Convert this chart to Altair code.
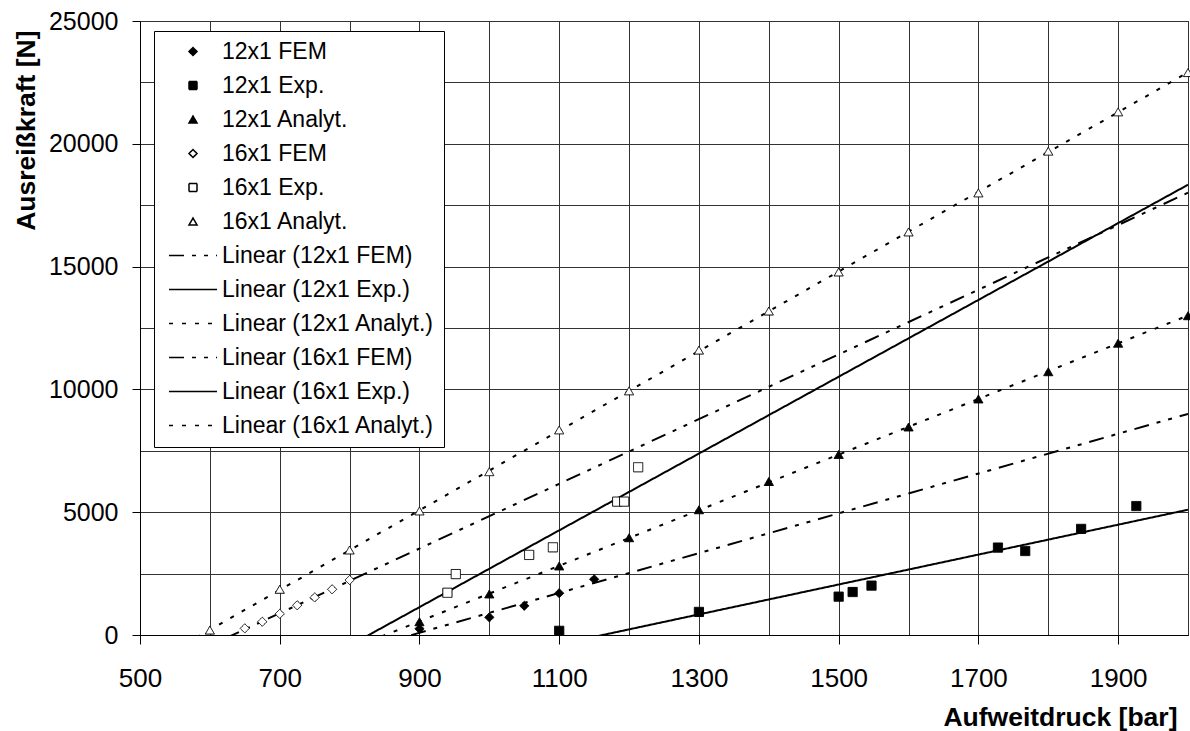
import altair as alt
import pandas as pd

# ---- data ----
series = ["12x1 FEM", "12x1 Exp.", "12x1 Analyt.", "16x1 FEM", "16x1 Exp.", "16x1 Analyt."]
trends = ["Linear (" + s + ")" for s in series]

fem12_x = [900, 1000, 1050, 1100, 1150]
fem12_y = [250, 720, 1190, 1700, 2270]

exp12_x = [1100, 1300, 1500, 1520, 1547, 1728, 1767, 1847, 1926]
exp12_y = [170, 940, 1560, 1750, 2010, 3560, 3420, 4320, 5250]

ana12_x = [900, 1000, 1100, 1200, 1300, 1400, 1500, 1600, 1700, 1800, 1900, 2000]
ana12_y = [540, 1670, 2810, 3960, 5100, 6250, 7350, 8470, 9610, 10720, 11880, 13000]

fem16_x = [650, 675, 700, 725, 750, 775, 800]
fem16_y = [270, 540, 860, 1210, 1530, 1860, 2240]

exp16_x = [940, 952, 1057, 1091, 1183, 1193, 1213]
exp16_y = [1720, 2480, 3260, 3570, 5430, 5430, 6830]

ana16_x = [600, 700, 800, 900, 1000, 1100, 1200, 1300, 1400, 1500, 1600, 1700, 1800, 1900, 2000]
ana16_y = [200, 1860, 3460, 5050, 6650, 8350, 9940, 11600, 13190, 14780, 16410, 18000, 19700, 21300, 22900]

all_x = [fem12_x, exp12_x, ana12_x, fem16_x, exp16_x, ana16_x]
all_y = [fem12_y, exp12_y, ana12_y, fem16_y, exp16_y, ana16_y]

x_ticks = list(range(500, 2001, 100))
y_ticks = list(range(0, 25001, 2500))

rows = []
for name, xs, ys in zip(series, all_x, all_y):
    for a, b in zip(xs, ys):
        rows.append({"series": name, "x": a, "y": b})
df = pd.DataFrame(rows)

# ---- styles ----
legend_domain = series + trends
line_path = "M-6,0H6"
shape_range = ["diamond", "square", "triangle-up", "diamond", "square", "triangle-up"] + [line_path] * 6
fill_range = ["black"] * 3 + ["white"] * 3 + ["transparent"] * 6
dash_fem = [15, 8, 4, 8, 4, 8]
dash_dot = [4, 9]
solid = [1, 0]
dash_range = [solid] * 6 + [dash_fem, solid, dash_dot, dash_fem, solid, dash_dot]

shape_scale = alt.Scale(domain=legend_domain, range=shape_range)
fill_scale = alt.Scale(domain=legend_domain, range=fill_range)
dash_scale = alt.Scale(domain=legend_domain, range=dash_range)

x_scale = alt.Scale(domain=[500, 2000], nice=False, zero=False)
y_scale = alt.Scale(domain=[0, 25000], nice=False)

x_axis = alt.Axis(
    values=x_ticks, format="d", title="Aufweitdruck [bar]",
    labelExpr="datum.value % 200 == 100 ? datum.label : ''",
    tickOpacity={"condition": {"test": "datum.value % 200 == 100", "value": 1}, "value": 0},
    labelFontSize=26, labelPadding=21, tickSize=9, labelFlush=False, labelOverlap=False,
    titleX=1037, titleY=90, titleAlign="right", titleBaseline="alphabetic",
    titleFontSize=26.5, titleFontWeight="bold",
)
y_axis = alt.Axis(
    values=y_ticks, format="d", title="Ausreißkraft [N]",
    labelExpr="datum.value % 5000 == 0 ? datum.label : ''",
    tickOpacity={"condition": {"test": "datum.value % 5000 == 0", "value": 1}, "value": 0},
    labelFontSize=25, labelPadding=14, tickSize=8, labelFlush=False, labelOverlap=False,
    titleAngle=270, titleX=-106, titleY=9, titleAlign="right", titleBaseline="alphabetic",
    titleFontSize=26.5, titleFontWeight="bold",
)

base = alt.Chart(df)

lines = base.transform_regression(
    "x", "y", groupby=["series"], extent=[500, 2000]
).transform_calculate(
    trend="'Linear (' + datum.series + ')'"
).mark_line(clip=True, color="black", strokeWidth=2).encode(
    x=alt.X("x:Q", scale=x_scale, axis=x_axis),
    y=alt.Y("y:Q", scale=y_scale, axis=y_axis),
    strokeDash=alt.StrokeDash("trend:N", scale=dash_scale, legend=alt.Legend(title=None)),
    detail="trend:N",
)

points = base.mark_point(filled=False, stroke="black", strokeWidth=1, opacity=1, size=85).encode(
    x=alt.X("x:Q", scale=x_scale, axis=x_axis),
    y=alt.Y("y:Q", scale=y_scale, axis=y_axis),
    shape=alt.Shape("series:N", scale=shape_scale, legend=alt.Legend(title=None)),
    fill=alt.Fill("series:N", scale=fill_scale, legend=alt.Legend(title=None)),
    strokeDash=alt.StrokeDash("series:N", scale=dash_scale, legend=alt.Legend(title=None)),
)

chart = alt.layer(lines, points).properties(
    width=1048, height=614,
    autosize=alt.AutoSizeParams(type="none"),
    padding={"left": 140, "top": 21, "right": 2, "bottom": 96},
).configure(
    font="Liberation Sans",
).configure_view(
    stroke="black", strokeWidth=1,
).configure_axis(
    labelFont="Liberation Sans", titleFont="Liberation Sans",
    labelColor="black", titleColor="black",
    domainColor="black", domainWidth=1,
    tickColor="black", tickWidth=1,
    gridColor="#333333", gridWidth=1, grid=True,
).configure_legend(
    orient="none", legendX=14, legendY=10,
    strokeColor="black", fillColor="white", padding=9,
    labelFont="Liberation Sans", labelFontSize=23, labelColor="black", labelLimit=400,
    symbolSize=64, symbolStrokeWidth=1.5, symbolStrokeColor="black",
    symbolFillColor="transparent",
    symbolOffset=18.5, labelOffset=17.5, rowPadding=10,
)

chart.save("out.html", embed_options={"renderer": "svg", "actions": False})
